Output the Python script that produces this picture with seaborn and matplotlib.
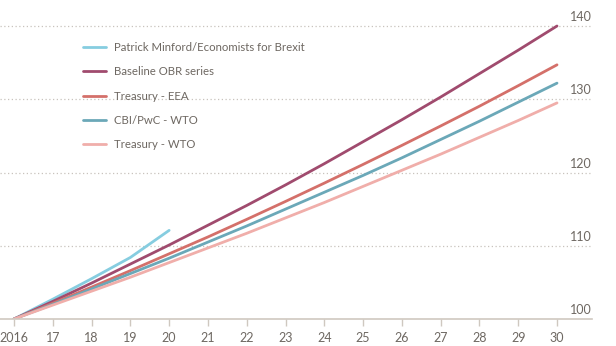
import matplotlib
matplotlib.use("Agg")
import matplotlib.pyplot as plt
import matplotlib.transforms as mtransforms
import seaborn as sns
import pandas as pd

years = list(range(2016, 2031))
minford_years = [2016, 2017, 2018, 2019, 2020]
minford = [100, 102.7, 105.5, 108.4, 112.1]
baseline = [100, 102.4, 104.9, 107.5, 110.1, 112.8, 115.5, 118.3, 121.2, 124.2, 127.2, 130.3, 133.5, 136.7, 140.0]
treasury_eea = [100, 102.15, 104.35, 106.6, 108.9, 111.2, 113.6, 116.05, 118.55, 121.1, 123.7, 126.35, 129.05, 131.85, 134.7]
cbi_wto = [100, 102.0, 104.1, 106.2, 108.3, 110.5, 112.7, 115.0, 117.3, 119.6, 122.0, 124.5, 127.0, 129.6, 132.2]
treasury_wto = [100, 101.9, 103.8, 105.7, 107.7, 109.7, 111.7, 113.8, 115.9, 118.1, 120.3, 122.5, 124.8, 127.1, 129.5]

series_names = ["Patrick Minford/Economists for Brexit", "Baseline OBR series",
                "Treasury - EEA", "CBI/PwC - WTO", "Treasury - WTO"]
colors = ["#86cde0", "#a04b6e", "#d4706a", "#6ba8b8", "#f0aeaa"]
xtick_labels = ["2016"] + [str(y % 100) for y in years[1:]]
yticks = [100, 110, 120, 130, 140]

rows = []
for x, v in zip(minford_years, minford):
    rows.append((x, v, series_names[0]))
for name, vals in zip(series_names[1:], [baseline, treasury_eea, cbi_wto, treasury_wto]):
    for x, v in zip(years, vals):
        rows.append((x, v, name))
df = pd.DataFrame(rows, columns=["year", "value", "series"])

sns.set_theme(style="white")
plt.rcParams["font.family"] = ["Lato", "DejaVu Sans"]

fig = plt.figure(figsize=(6.16, 3.46), dpi=100)
ax = fig.add_axes([0.0, 27 / 346, 592 / 616, 1 - 27 / 346])

pal = dict(zip(series_names, colors))
sns.lineplot(data=df, x="year", y="value", hue="series", hue_order=series_names,
             palette=pal, linewidth=2.0, ax=ax, legend=True)

ax.set_xlim(2016 - 14 / 38.79, 2030 + 35 / 38.79)
ax.set_ylim(100, 140 + 26 / 7.325)

for y in yticks[1:]:
    ax.axhline(y, color="#c8c3bd", linestyle=(0, (1, 2)), linewidth=0.9, zorder=0)

for s in ["top", "right", "left"]:
    ax.spines[s].set_visible(False)
ax.spines["bottom"].set_color("#cfc8c0")
ax.spines["bottom"].set_linewidth(1.2)

ax.set_xticks(years)
ax.set_xticklabels(xtick_labels)
ax.tick_params(axis="x", length=5, width=1, color="#cfc8c0", colors="#6e6862",
               labelsize=9, pad=4, bottom=True)
for lab in ax.get_xticklabels():
    lab.set_color("#6e6862")

ax.yaxis.tick_right()
ax.set_yticks(yticks)
ax.set_yticklabels([str(v) for v in yticks])
ax.tick_params(axis="y", length=0, pad=0, labelsize=9, colors="#6e6862")
offset = mtransforms.ScaledTranslation(0, 3 / 100, fig.dpi_scale_trans)
for lab in ax.get_yticklabels():
    lab.set_horizontalalignment("right")
    lab.set_verticalalignment("bottom")
    lab.set_transform(lab.get_transform() + offset)

ax.set_xlabel("")
ax.set_ylabel("")

leg = ax.legend(loc="upper left", bbox_to_anchor=(83 / 616, 1 - 42 / 346),
                bbox_transform=fig.transFigure, frameon=False, fontsize=8.2,
                handlelength=2.0, handletextpad=0.7, labelspacing=1.17,
                borderaxespad=0, borderpad=0)
for t in leg.get_texts():
    t.set_color("#6e6862")
for h in leg.get_lines():
    h.set_linewidth(2.0)

fig.savefig("out.png", dpi=100, facecolor="white")
